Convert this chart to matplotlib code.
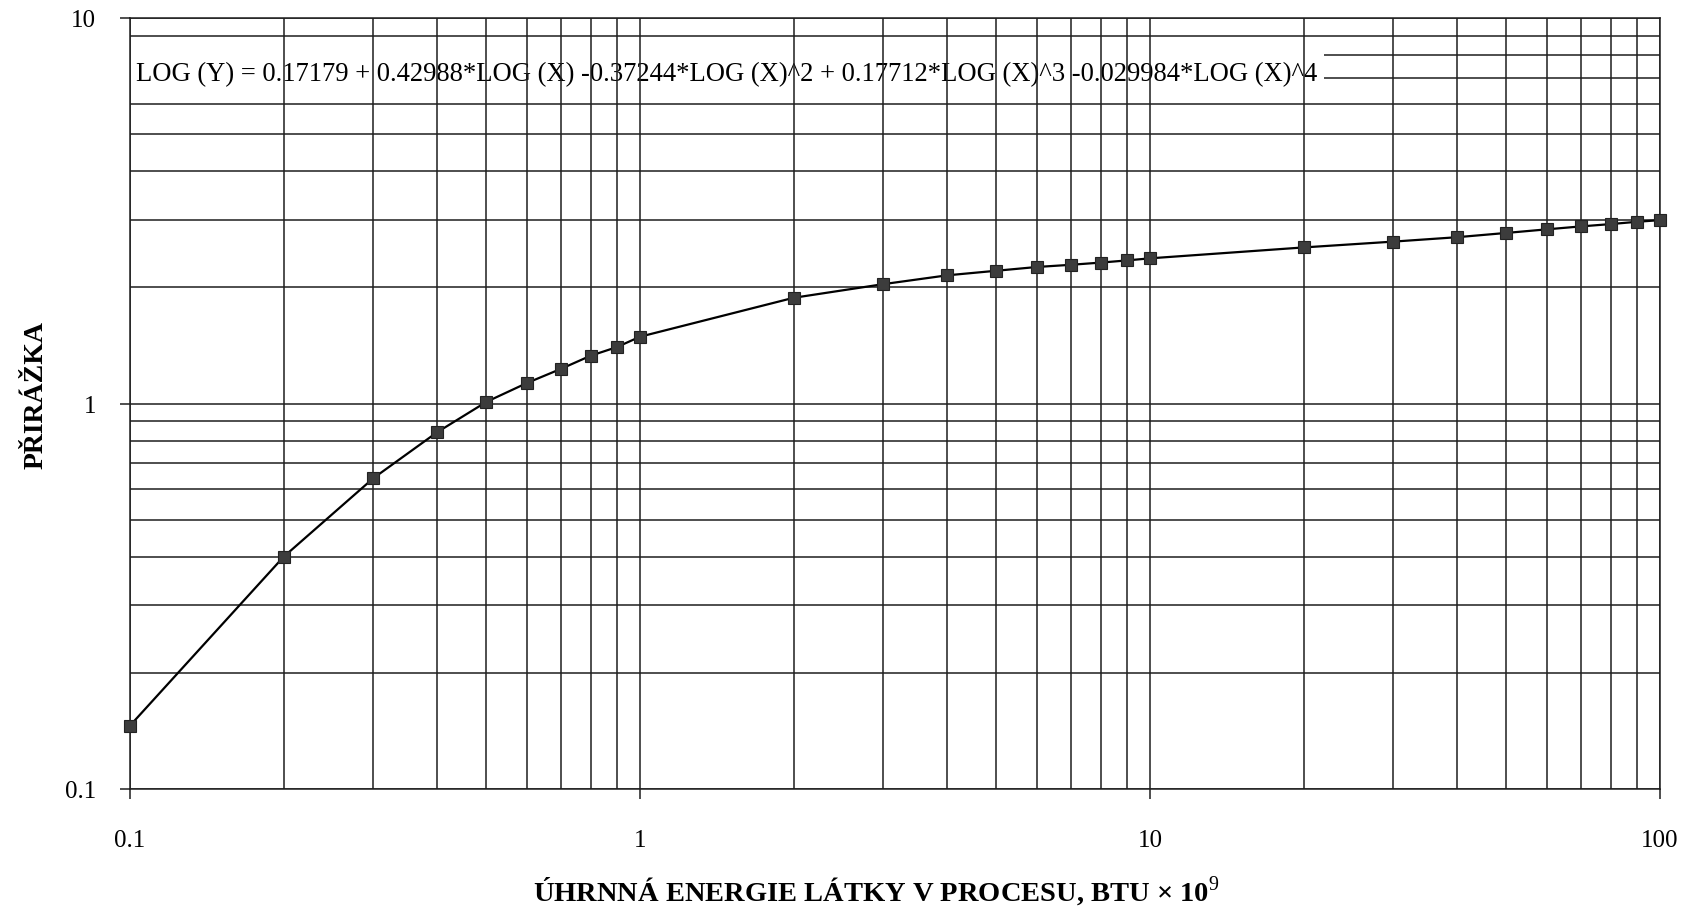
import matplotlib
matplotlib.use("Agg")
import matplotlib.pyplot as plt
from matplotlib.ticker import FixedLocator, FixedFormatter, LogLocator, NullFormatter

# Total process energy (BTU x 10^9) and the corresponding surcharge factor
energy = [0.1, 0.2, 0.3, 0.4, 0.5, 0.6, 0.7, 0.8, 0.9,
          1, 2, 3, 4, 5, 6, 7, 8, 9,
          10, 20, 30, 40, 50, 60, 70, 80, 90, 100]
surcharge = [0.146, 0.40, 0.64, 0.842, 1.01, 1.13, 1.23, 1.33, 1.40,
             1.49, 1.88, 2.04, 2.15, 2.21, 2.26, 2.29, 2.32, 2.35,
             2.38, 2.54, 2.63, 2.70, 2.77, 2.83, 2.88, 2.92, 2.96, 2.99]

x_ticks = [0.1, 1, 10, 100]
x_tick_labels = ["0.1", "1", "10", "100"]
y_ticks = [0.1, 1, 10]
y_tick_labels = ["0.1", "1", "10"]

equation = ("LOG (Y) = 0.17179 + 0.42988*LOG (X) -0.37244*LOG (X)^2 + "
            "0.17712*LOG (X)^3 -0.029984*LOG (X)^4")
x_label = "ÚHRNNÁ ENERGIE LÁTKY V PROCESU, BTU × 10$^{9}$"
y_label = "PŘIRÁŽKA"

plt.rcParams["font.family"] = ["Liberation Serif", "DejaVu Serif"]
plt.rcParams["mathtext.fontset"] = "custom"
plt.rcParams["mathtext.rm"] = "Liberation Serif"
plt.rcParams["mathtext.bf"] = "Liberation Serif:bold"

fig = plt.figure(figsize=(16.86, 9.12), dpi=100)
ax = fig.add_axes([130 / 1686, 1 - 790 / 912, 1530 / 1686, 771 / 912])

ax.set_xscale("log")
ax.set_yscale("log")
ax.set_xlim(0.1, 100)
ax.set_ylim(0.1, 10)

grid_color = "#1e1e1e"
ax.xaxis.set_major_locator(FixedLocator(x_ticks))
ax.xaxis.set_major_formatter(FixedFormatter(x_tick_labels))
ax.xaxis.set_minor_locator(LogLocator(base=10, subs=range(2, 10)))
ax.xaxis.set_minor_formatter(NullFormatter())
ax.yaxis.set_major_locator(FixedLocator(y_ticks))
ax.yaxis.set_major_formatter(FixedFormatter(y_tick_labels))
ax.yaxis.set_minor_locator(LogLocator(base=10, subs=range(2, 10)))
ax.yaxis.set_minor_formatter(NullFormatter())

ax.grid(True, which="both", color=grid_color, linewidth=1.1)
ax.tick_params(which="major", direction="out", length=7.5, width=1.1,
               color=grid_color, labelsize=18)
ax.tick_params(axis="x", which="major", pad=21)
ax.tick_params(axis="y", which="major", pad=17)
ax.tick_params(which="minor", length=0)
for s in ax.spines.values():
    s.set_color(grid_color)
    s.set_linewidth(1.1)

# horizontal grid sits under the equation box, vertical grid runs over it
ax.yaxis.set_zorder(0.5)
ax.xaxis.set_zorder(2.0)

ax.text(0.004, 0.928, equation, transform=ax.transAxes, fontsize=19.2,
        va="center", ha="left", zorder=1.0,
        bbox=dict(facecolor="white", edgecolor="none", pad=5))

ax.plot(energy, surcharge, color="black", linewidth=1.6,
        marker="s", markersize=8, markerfacecolor="#3c3c3c",
        markeredgecolor="#222222", markeredgewidth=0.8, zorder=3,
        clip_on=False)

fig.text(876 / 1686, 1 - 892 / 912, x_label, ha="center", va="center",
         fontsize=20.5, fontweight="bold")
fig.text(36 / 1686, 1 - 395 / 912, y_label, ha="center", va="center",
         rotation=90, fontsize=20, fontweight="bold")

fig.savefig("out.png", dpi=100, facecolor="white")
